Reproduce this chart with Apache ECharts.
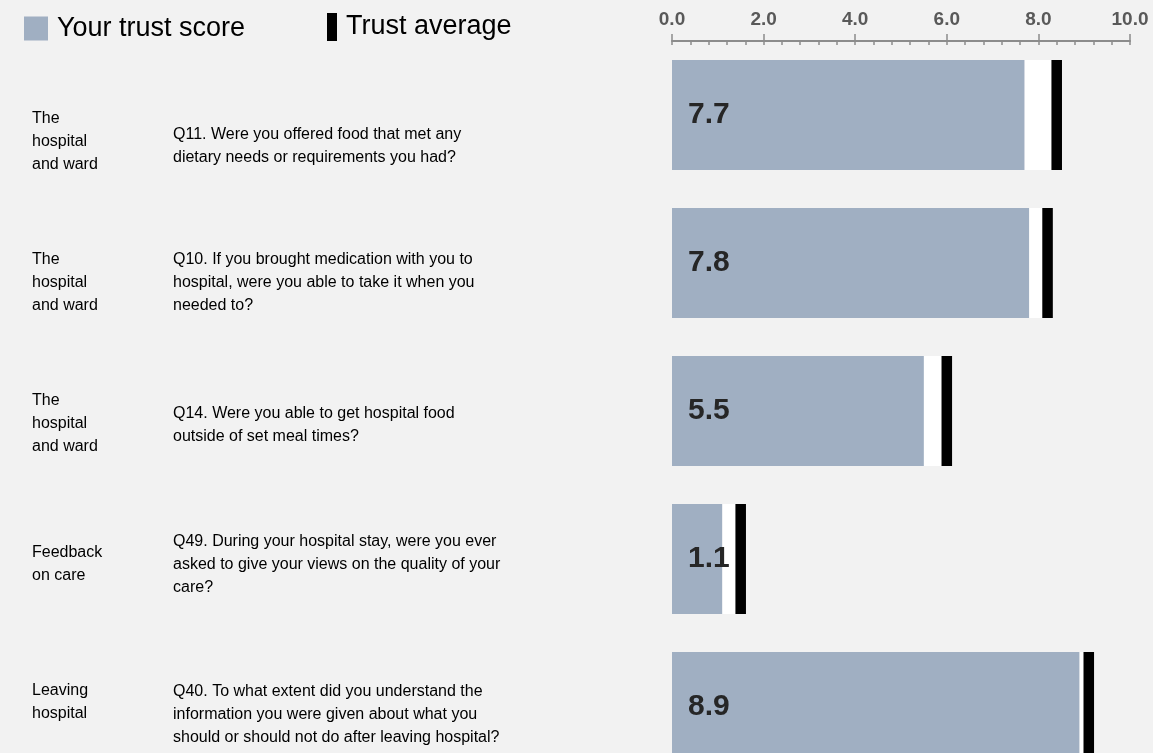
<!DOCTYPE html>
<html>
<head>
<meta charset="utf-8">
<script src="https://cdn.jsdelivr.net/npm/echarts@6/dist/echarts.min.js"></script>
<style>
html,body{margin:0;padding:0;background:#f2f2f2;}
#chart{width:1153px;height:753px;}
</style>
</head>
<body>
<div id="chart"></div>
<script>
// ---- data ----
var sections = ["The\nhospital\nand ward", "The\nhospital\nand ward", "The\nhospital\nand ward", "Feedback\non care", "Leaving\nhospital"];
var questions = [
  "Q11. Were you offered food that met any\ndietary needs or requirements you had?",
  "Q10. If you brought medication with you to\nhospital, were you able to take it when you\nneeded to?",
  "Q14. Were you able to get hospital food\noutside of set meal times?",
  "Q49. During your hospital stay, were you ever\nasked to give your views on the quality of your\ncare?",
  "Q40. To what extent did you understand the\ninformation you were given about what you\nshould or should not do after leaving hospital?"
];
var trustScores = [7.7, 7.8, 5.5, 1.1, 8.9];
var trustAverages = [8.4, 8.2, 6.0, 1.5, 9.1];
var axisMin = 0, axisMax = 10, axisStep = 2;
var markerWidth = 0.23; // width of the black average marker, in score units

// layout nudges for the row text blocks (px, positive = down)
var questionNudge = [5, 0, 2, 0, 9];
var sectionNudge = [0, 0, 0, 0, -3];

// derived stacks
var gapValues = trustScores.map(function (s, i) { return Math.max(0, trustAverages[i] - markerWidth / 2 - s); });
var markerValues = trustScores.map(function () { return markerWidth; });

var FONT = "'Liberation Sans', Arial, sans-serif";

// rich-text builder: spacer line shifts the centred block by n px
var rowRich = {t: {fontSize: 16, lineHeight: 23, color: '#000', fontFamily: FONT, align: 'left'}};
function spacerKey(n) { return 'p' + Math.abs(n); }
questionNudge.concat(sectionNudge).forEach(function (n) {
  if (n !== 0) rowRich[spacerKey(n)] = {fontSize: 1, lineHeight: 2 * Math.abs(n), color: 'rgba(0,0,0,0)'};
});
function rowLabel(text, n) {
  var body = text.split('\n').map(function (l) { return '{t|' + l + '}'; }).join('\n');
  if (n > 0) return '{' + spacerKey(n) + '| }\n' + body;
  if (n < 0) return body + '\n{' + spacerKey(n) + '| }';
  return body;
}

var chart = echarts.init(document.getElementById('chart'), null, {renderer: 'canvas'});
chart.setOption({
  backgroundColor: '#f2f2f2',
  animation: false,
  textStyle: {fontFamily: FONT},
  legend: [
    {
      data: [{name: 'Your trust score', icon: 'rect'}],
      left: 24, top: 15, padding: 0, itemWidth: 24, itemHeight: 24,
      textStyle: {fontSize: 27, color: '#000', fontFamily: FONT, padding: [0, 0, 0, 4]},
      selectedMode: false
    },
    {
      data: [{name: 'Trust average', icon: 'rect'}],
      left: 327, top: 13, padding: 0, itemWidth: 10, itemHeight: 28,
      textStyle: {fontSize: 27, color: '#000', fontFamily: FONT, padding: [0, 0, 0, 4]},
      selectedMode: false
    }
  ],
  grid: [
    {left: 672, right: 23, top: 41, height: 740, outerBoundsMode: 'none', containLabel: false},
    {left: 600, width: 10, top: 71, height: 705, outerBoundsMode: 'none', containLabel: false}
  ],
  xAxis: [
    {
      type: 'value', gridIndex: 0, position: 'top', min: axisMin, max: axisMax, interval: axisStep,
      axisLine: {show: true, lineStyle: {color: '#8c8c8c', width: 2}},
      axisTick: {show: true, length: 7, lineStyle: {color: '#8c8c8c', width: 1.5}},
      axisLabel: {show: true, margin: 12, fontSize: 19, fontWeight: 'bold', color: '#595959', fontFamily: FONT,
        formatter: function (v) { return v.toFixed(1); }},
      splitLine: {show: false}
    },
    {
      type: 'value', gridIndex: 0, position: 'top', min: axisMin, max: axisMax, interval: axisStep,
      axisLine: {show: false},
      axisTick: {show: true, inside: true, length: 4, lineStyle: {color: '#8c8c8c', width: 1.5}},
      minorTick: {show: true, splitNumber: 5, length: 4, lineStyle: {color: '#8c8c8c', width: 1.5}},
      axisLabel: {show: false},
      splitLine: {show: false}
    },
    {type: 'value', gridIndex: 1, show: false, min: 0, max: 1}
  ],
  yAxis: [
    {type: 'category', gridIndex: 0, data: questions, inverse: true, show: false},
    {
      type: 'category', gridIndex: 1, position: 'left', data: questions, inverse: true,
      axisLine: {show: false}, axisTick: {show: false},
      axisLabel: {show: true, align: 'left', margin: 568, fontSize: 1, lineHeight: 1, color: '#000', fontFamily: FONT,
        rich: rowRich,
        formatter: function (v, i) { return rowLabel(sections[i], sectionNudge[i]); }}
    },
    {
      type: 'category', gridIndex: 1, position: 'left', data: questions, inverse: true,
      axisLine: {show: false}, axisTick: {show: false},
      axisLabel: {show: true, align: 'left', margin: 427, fontSize: 1, lineHeight: 1, color: '#000', fontFamily: FONT,
        rich: rowRich,
        formatter: function (v, i) { return rowLabel(v, questionNudge[i]); }}
    }
  ],
  series: [
    {
      name: 'Your trust score', type: 'bar', xAxisIndex: 0, yAxisIndex: 0, stack: 'row',
      data: trustScores, barWidth: 110,
      itemStyle: {color: '#a0afc2'},
      label: {show: true, position: 'insideLeft', distance: 16, fontSize: 30, fontWeight: 'bold', color: '#262626', fontFamily: FONT,
        formatter: function (p) { return p.value.toFixed(1); }},
      silent: true
    },
    {
      name: 'gap', type: 'bar', xAxisIndex: 0, yAxisIndex: 0, stack: 'row',
      data: gapValues, barWidth: 110,
      itemStyle: {color: '#ffffff'}, silent: true
    },
    {
      name: 'Trust average', type: 'bar', xAxisIndex: 0, yAxisIndex: 0, stack: 'row',
      data: markerValues, barWidth: 110,
      itemStyle: {color: '#000000'}, silent: true
    }
  ]
});
</script>
</body>
</html>
